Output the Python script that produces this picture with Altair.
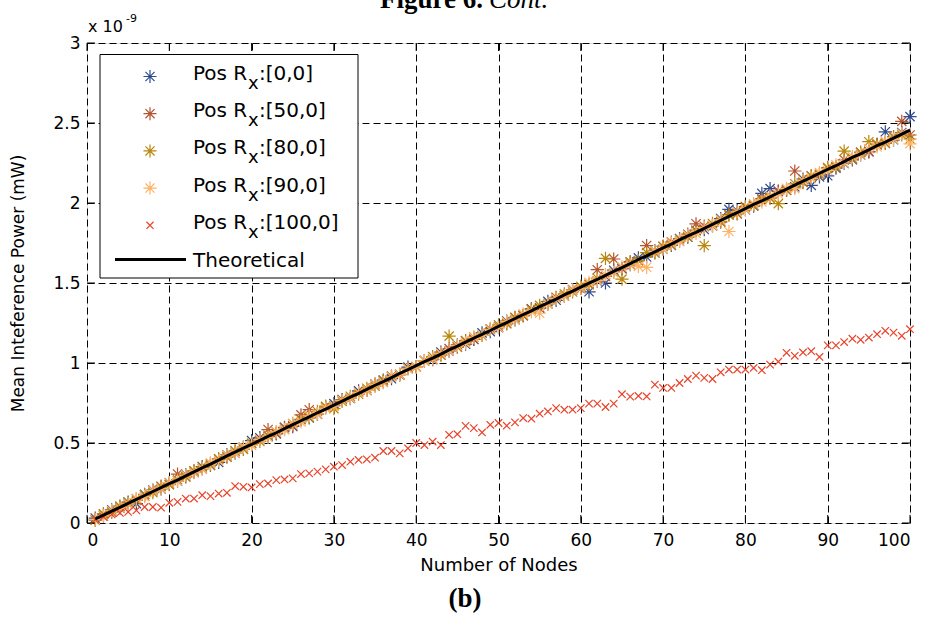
import altair as alt
import pandas as pd

# ---------------- data (values in units of 1e-9 mW) ----------------
nodes = list(range(1, 101))

theoretical = [0.025,0.049,0.074,0.098,0.123,0.147,0.172,0.197,0.221,0.246,
0.268,0.295,0.320,0.345,0.368,0.393,0.419,0.443,0.468,0.491,
0.516,0.541,0.564,0.590,0.615,0.639,0.663,0.689,0.712,0.737,
0.762,0.787,0.810,0.835,0.861,0.884,0.909,0.935,0.958,0.983,
1.008,1.031,1.056,1.082,1.105,1.130,1.156,1.179,1.203,1.229,
1.253,1.277,1.303,1.326,1.352,1.376,1.399,1.426,1.449,1.474,
1.499,1.522,1.548,1.573,1.596,1.621,1.647,1.670,1.695,1.720,
1.743,1.769,1.794,1.817,1.842,1.867,1.891,1.916,1.940,1.965,
1.991,2.013,2.038,2.064,2.087,2.112,2.137,2.160,2.186,2.210,
2.233,2.259,2.285,2.307,2.332,2.358,2.381,2.406,2.431,2.455]

pos_0_0 = [0.031,0.044,0.082,0.093,0.131,0.121,0.179,0.206,0.213,0.252,
0.262,0.303,0.316,0.353,0.360,0.379,0.427,0.436,0.474,0.515,
0.533,0.541,0.557,0.598,0.603,0.648,0.657,0.681,0.724,0.746,
0.771,0.778,0.826,0.829,0.866,0.893,0.902,0.928,0.974,0.977,
1.015,1.021,1.068,1.074,1.113,1.118,1.147,1.188,1.196,1.221,
1.262,1.270,1.296,1.338,1.343,1.385,1.392,1.419,1.458,1.466,
1.445,1.512,1.500,1.580,1.589,1.615,1.657,1.663,1.702,1.711,
1.735,1.778,1.786,1.830,1.834,1.858,1.903,1.960,1.952,1.958,
1.981,2.060,2.090,2.072,2.080,2.101,2.150,2.110,2.163,2.170,
2.218,2.247,2.270,2.301,2.321,2.365,2.445,2.395,2.440,2.540]

pos_50_0 = [0.020,0.055,0.070,0.105,0.118,0.152,0.168,0.201,0.230,0.241,
0.306,0.288,0.325,0.338,0.372,0.401,0.412,0.450,0.461,0.497,
0.522,0.584,0.560,0.596,0.608,0.676,0.708,0.680,0.720,0.733,
0.770,0.780,0.818,0.830,0.868,0.880,0.918,0.925,0.967,0.978,
1.015,1.025,1.050,1.090,1.099,1.140,1.148,1.172,1.212,1.225,
1.245,1.285,1.296,1.336,1.345,1.370,1.410,1.419,1.458,1.466,
1.490,1.583,1.541,1.650,1.590,1.633,1.640,1.734,1.689,1.730,
1.756,1.761,1.805,1.870,1.855,1.858,1.880,1.928,1.932,1.978,
1.985,2.028,2.030,2.075,2.080,2.200,2.128,2.170,2.178,2.222,
2.226,2.270,2.275,2.318,2.320,2.368,2.372,2.415,2.510,2.425]

pos_80_0 = [0.018,0.058,0.068,0.104,0.128,0.141,0.178,0.190,0.228,0.240,
0.272,0.290,0.327,0.350,0.362,0.400,0.415,0.449,0.462,0.498,
0.510,0.548,0.570,0.585,0.622,0.645,0.660,0.697,0.730,0.715,
0.760,0.792,0.805,0.842,0.855,0.890,0.915,0.930,0.965,0.975,
1.012,1.040,1.050,1.168,1.100,1.137,1.162,1.172,1.210,1.238,
1.248,1.283,1.298,1.333,1.360,1.370,1.405,1.432,1.444,1.480,
1.492,1.530,1.654,1.566,1.524,1.628,1.640,1.690,1.688,1.728,
1.738,1.775,1.788,1.826,1.734,1.872,1.885,1.924,1.935,1.972,
1.985,2.020,2.032,1.996,2.081,2.120,2.130,2.168,2.180,2.218,
2.226,2.324,2.278,2.315,2.383,2.365,2.375,2.414,2.425,2.400]

pos_90_0 = [0.022,0.045,0.078,0.092,0.120,0.153,0.165,0.203,0.215,0.252,
0.262,0.300,0.315,0.340,0.374,0.388,0.425,0.437,0.474,0.485,
0.521,0.535,0.570,0.584,0.619,0.632,0.669,0.682,0.718,0.730,
0.767,0.781,0.815,0.829,0.866,0.878,0.914,0.928,0.963,0.976,
1.013,1.025,1.060,1.075,1.110,1.124,1.160,1.173,1.208,1.222,
1.258,1.270,1.307,1.320,1.311,1.369,1.404,1.419,1.455,1.467,
1.504,1.515,1.553,1.566,1.601,1.614,1.604,1.598,1.700,1.712,
1.749,1.762,1.798,1.810,1.847,1.860,1.896,1.822,1.945,1.958,
1.996,2.006,2.044,2.056,2.092,2.090,2.142,2.154,2.190,2.203,
2.239,2.250,2.290,2.300,2.338,2.350,2.386,2.398,2.436,2.370]

pos_100_0 = [0.021,0.038,0.054,0.063,0.069,0.079,0.100,0.100,0.096,0.126,
0.132,0.153,0.153,0.174,0.168,0.184,0.189,0.231,0.226,0.222,
0.243,0.247,0.268,0.272,0.279,0.306,0.310,0.321,0.335,0.352,
0.362,0.383,0.394,0.398,0.408,0.450,0.450,0.435,0.467,0.500,
0.487,0.508,0.487,0.551,0.555,0.607,0.593,0.566,0.614,0.625,
0.608,0.629,0.656,0.652,0.683,0.697,0.718,0.708,0.708,0.718,
0.746,0.746,0.725,0.746,0.805,0.790,0.794,0.791,0.865,0.844,
0.844,0.875,0.900,0.921,0.907,0.900,0.942,0.959,0.959,0.959,
0.969,0.955,0.990,1.008,1.064,1.045,1.066,1.074,1.038,1.110,
1.110,1.131,1.152,1.145,1.159,1.180,1.201,1.190,1.170,1.211]

legend_post = [":[0,0]", ":[50,0]", ":[80,0]", ":[90,0]", ":[100,0]"]
series_colors = ["#2F4B8F", "#B4532F", "#B8860B", "#FFB266", "#E8432A"]
x_ticks = [0, 10, 20, 30, 40, 50, 60, 70, 80, 90, 100]
y_ticks = [0, 0.5, 1, 1.5, 2, 2.5, 3]

# ---------------- styling ----------------
W, H = 823, 480
FONT = "DejaVu Sans"
star_path = "M-1,0L1,0M0,-1L0,1M-0.7,-0.7L0.7,0.7M-0.7,0.7L0.7,-0.7"
x_path = "M-1,-1L1,1M-1,1L1,-1"

xscale = alt.Scale(domain=[0, 100], nice=False, zero=False)
yscale = alt.Scale(domain=[0, 3], nice=False)

xaxis = alt.Axis(values=x_ticks, tickSize=0, labelPadding=9, domain=False,
                 grid=True, gridDash=[7, 4], gridColor="#000", gridWidth=1,
                 title="Number of Nodes", titleFontSize=18, titleFontWeight="normal",
                 titleY=42, titleBaseline="middle", labelFontSize=17, labelFont=FONT,
                 titleFont=FONT, labelColor="#000", titleColor="#000")
yaxis = alt.Axis(values=y_ticks, format="~g", tickSize=0, labelPadding=7, domain=False,
                 grid=True, gridDash=[7, 4], gridColor="#000", gridWidth=1,
                 title="Mean Inteference Power (mW)", titleFontSize=17, titleFontWeight="normal",
                 titleX=-69, titleY=H / 2, titleAngle=-90, titleBaseline="middle", titleAlign="center",
                 labelFontSize=17, labelFont=FONT, titleFont=FONT, labelColor="#000", titleColor="#000")

def series_df(vals):
    return pd.DataFrame({"n": nodes, "v": vals})

layers = []
star_series = [pos_0_0, pos_50_0, pos_80_0, pos_90_0]
for vals, col in zip(star_series, series_colors[:4]):
    layers.append(
        alt.Chart(series_df(vals)).mark_point(shape=star_path, filled=False, size=175,
                                              strokeWidth=1.2, color=col, opacity=1)
        .encode(x=alt.X("n:Q", scale=xscale, axis=xaxis),
                y=alt.Y("v:Q", scale=yscale, axis=yaxis))
    )
layers.append(
    alt.Chart(series_df(pos_100_0)).mark_point(shape=x_path, filled=False, size=55,
                                               strokeWidth=1.2, color=series_colors[4], opacity=1)
    .encode(x=alt.X("n:Q", scale=xscale, axis=xaxis), y=alt.Y("v:Q", scale=yscale, axis=yaxis))
)
layers.append(
    alt.Chart(series_df(theoretical)).mark_line(color="black", strokeWidth=3)
    .encode(x=alt.X("n:Q", scale=xscale, axis=xaxis), y=alt.Y("v:Q", scale=yscale, axis=yaxis))
)

# inward ticks (MATLAB style) on all four sides
xt = pd.DataFrame({"n": x_ticks})
yt = pd.DataFrame({"v": y_ticks})
tk = 8
layers.append(alt.Chart(xt).mark_rule(color="black", strokeWidth=1).encode(
    x=alt.X("n:Q", scale=xscale), y=alt.value(H), y2=alt.value(H - tk)))
layers.append(alt.Chart(xt).mark_rule(color="black", strokeWidth=1).encode(
    x=alt.X("n:Q", scale=xscale), y=alt.value(0), y2=alt.value(tk)))
layers.append(alt.Chart(yt).mark_rule(color="black", strokeWidth=1).encode(
    y=alt.Y("v:Q", scale=yscale), x=alt.value(0), x2=alt.value(tk)))
layers.append(alt.Chart(yt).mark_rule(color="black", strokeWidth=1).encode(
    y=alt.Y("v:Q", scale=yscale), x=alt.value(W - tk), x2=alt.value(W)))

one = pd.DataFrame({"k": [0]})

# legend box
layers.append(alt.Chart(one).mark_rect(fill="white", stroke="black", strokeWidth=1).encode(
    x=alt.value(13), x2=alt.value(271), y=alt.value(11.5), y2=alt.value(235)))

row0, step = 33.5, 37.2
sym_x, txt_x = 63, 106
for i in range(5):
    ry = row0 + step * i
    shp = star_path if i < 4 else x_path
    sz = 170 if i < 4 else 50
    layers.append(alt.Chart(one).mark_point(shape=shp, filled=False, size=sz, strokeWidth=1.2,
                                            color=series_colors[i], opacity=1)
                  .encode(x=alt.value(sym_x), y=alt.value(ry)))
    layers.append(alt.Chart(one).mark_text(text="Pos R", font=FONT, fontSize=20, align="left",
                                           baseline="alphabetic", color="black")
                  .encode(x=alt.value(txt_x), y=alt.value(ry + 3.5)))
    layers.append(alt.Chart(one).mark_text(text="x", font=FONT, fontSize=18, align="left",
                                           baseline="alphabetic", color="black")
                  .encode(x=alt.value(txt_x + 55), y=alt.value(ry + 12.5)))
    layers.append(alt.Chart(one).mark_text(text=legend_post[i], font=FONT, fontSize=20, align="left",
                                           baseline="alphabetic", color="black")
                  .encode(x=alt.value(txt_x + 66), y=alt.value(ry + 3.5)))
ry = row0 + step * 5 - 3
layers.append(alt.Chart(one).mark_rule(color="black", strokeWidth=3).encode(
    x=alt.value(28), x2=alt.value(99), y=alt.value(ry)))
layers.append(alt.Chart(one).mark_text(text="Theoretical", font=FONT, fontSize=20, align="left",
                                       baseline="alphabetic", color="black")
              .encode(x=alt.value(txt_x), y=alt.value(ry + 7)))

# exponent label
layers.append(alt.Chart(one).mark_text(text="x 10", font=FONT, fontSize=16, align="left",
                                       baseline="alphabetic", color="black")
              .encode(x=alt.value(1), y=alt.value(-11)))
layers.append(alt.Chart(one).mark_text(text="-9", font=FONT, fontSize=11, align="left",
                                       baseline="alphabetic", color="black")
              .encode(x=alt.value(39), y=alt.value(-21)))

# figure captions (top one partly cut off by the page edge, as in the reference)
layers.append(alt.Chart(one).mark_text(text="Figure 6.", font="Liberation Serif", fontSize=27,
                                       fontWeight="bold", align="right", baseline="alphabetic",
                                       color="black")
              .encode(x=alt.value(396), y=alt.value(-35)))
layers.append(alt.Chart(one).mark_text(text="Cont.", font="Liberation Serif", fontSize=27,
                                       fontStyle="italic", align="left", baseline="alphabetic",
                                       color="black")
              .encode(x=alt.value(402), y=alt.value(-35)))
layers.append(alt.Chart(one).mark_text(text="(b)", font="Liberation Serif", fontSize=27,
                                       fontWeight="bold", align="center", baseline="alphabetic",
                                       color="black")
              .encode(x=alt.value(378), y=alt.value(564)))

chart = alt.layer(*layers).properties(
    width=W, height=H,
    autosize=alt.AutoSizeParams(type="none"),
    padding={"left": 87, "top": 43, "right": 21, "bottom": 103},
    background="white",
).configure_view(stroke="black", strokeWidth=1).configure(font=FONT)

chart.save("out.html", embed_options={"renderer": "svg", "actions": False})
